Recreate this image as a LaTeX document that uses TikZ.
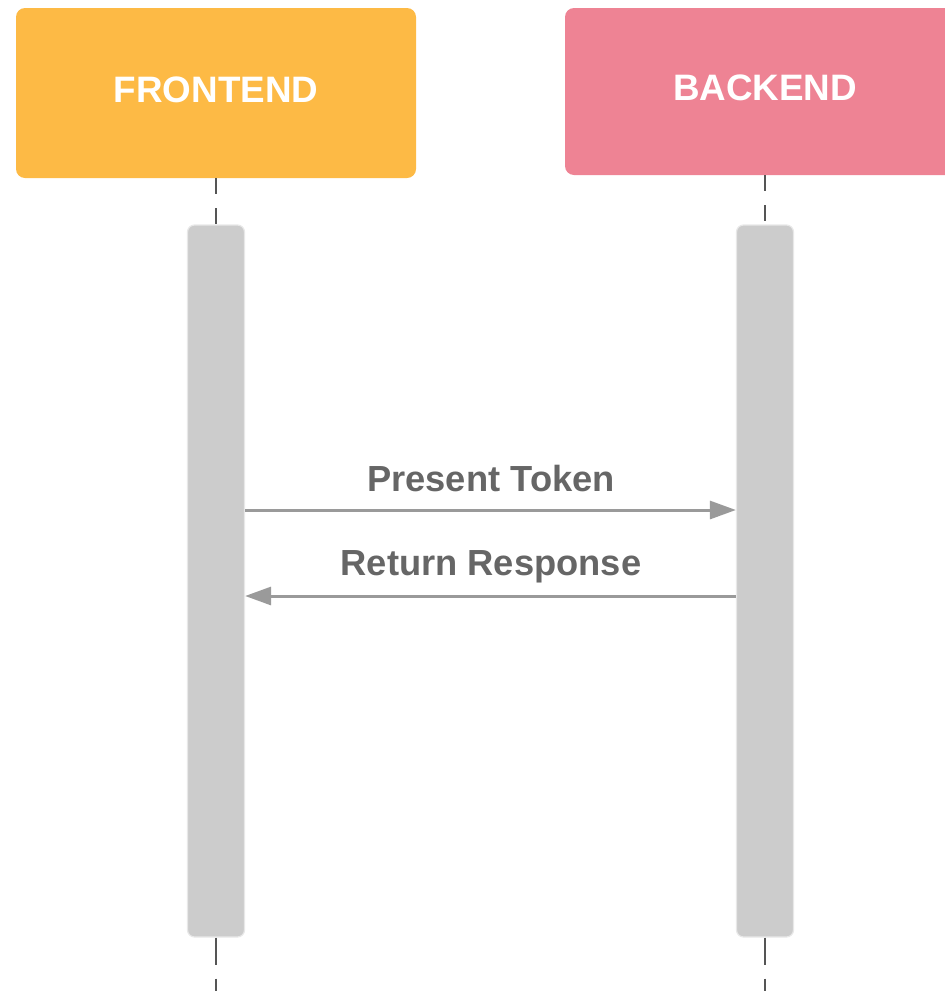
\documentclass[tikz,border=0pt]{standalone}
\usepackage{fontspec}
\setmainfont{Liberation Sans}
\usetikzlibrary{arrows.meta}
\definecolor{feorange}{RGB}{253,186,69}
\definecolor{bepink}{RGB}{238,131,148}
\definecolor{actgray}{RGB}{204,204,204}
\definecolor{actborder}{RGB}{232,232,232}
\definecolor{arrowgray}{RGB}{154,154,154}
\definecolor{labelgray}{RGB}{102,102,102}
\definecolor{lifegray}{RGB}{85,85,85}
\begin{document}
\begin{tikzpicture}[x=1pt,y=-1pt,
  header/.style={rounded corners=9pt, minimum width=400pt, inner sep=0pt, draw=none},
  actbox/.style={rounded corners=7pt, fill=actgray, draw=actborder, line width=1.2pt, minimum width=57pt, minimum height=712pt, inner sep=0pt},
  headtext/.style={text=white, font=\fontsize{36.8}{40}\selectfont\bfseries},
  msgtext/.style={text=labelgray, font=\fontsize{36.3}{40}\selectfont\bfseries, anchor=base},
  msg/.style={draw=arrowgray, line width=3pt, -{Triangle[length=26pt,width=18pt]}},
  lifeline/.style={draw=lifegray, line width=2.8pt},
]
\useasboundingbox (0,0) rectangle (945,991);
% headers
\node[header, fill=feorange, minimum height=170pt] (fe) at (216,93) {};
\node[header, fill=bepink, minimum height=167pt] (be) at (765,91.5) {};
\node[headtext, anchor=base] (fet) at (216,102) {FRONTEND};
\node[headtext, anchor=base] (bet) at (765,100) {BACKEND};
% activation boxes
\node[actbox] (fea) at (216,581) {};
\node[actbox] (bea) at (765,581) {};
\coordinate (feend) at (216,991);
\coordinate (beend) at (765,991);
% lifelines
\draw[lifeline, dash pattern=on 16pt off 14pt] (fe.south) -- (fea.north);
\draw[lifeline, dash pattern=on 16pt off 14pt] (be.south) -- (bea.north);
\draw[lifeline, dash pattern=on 27pt off 14pt] (fea.south) -- (feend);
\draw[lifeline, dash pattern=on 27pt off 14pt] (bea.south) -- (beend);
% messages
\draw[msg] (fea.east |- 0,510) -- (bea.west |- 0,510);
\draw[msg] (bea.west |- 0,596) -- (fea.east |- 0,596);
\node[msgtext] (m1) at (491,491) {Present Token};
\node[msgtext] (m2) at (491,575) {Return Response};
\end{tikzpicture}
\end{document}
